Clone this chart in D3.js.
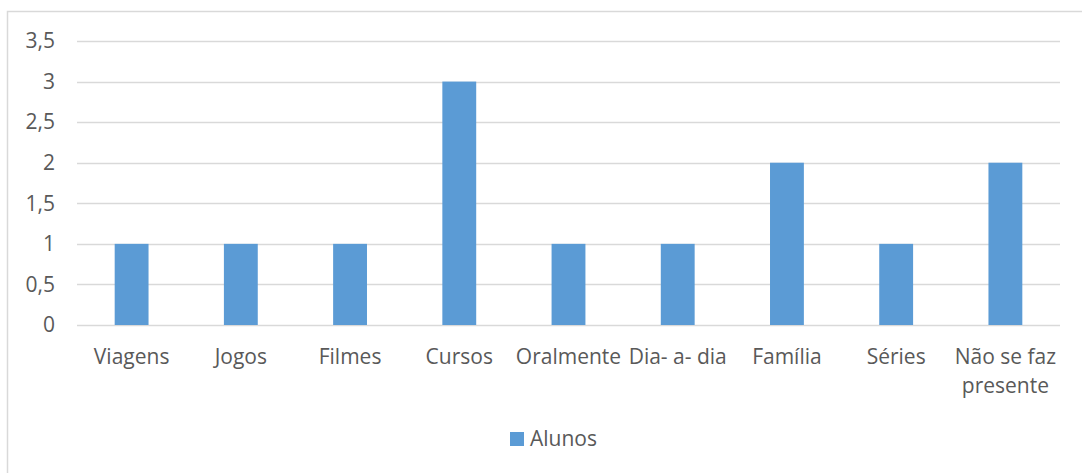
<!DOCTYPE html>
<html>
<head>
<meta charset="utf-8">
<script src="https://cdn.jsdelivr.net/npm/d3@7"></script>
<style>
  html, body { margin: 0; padding: 0; background: #fff; }
  svg { display: block; }
  text { font-family: "Open Sans", sans-serif; fill: #595959; }
</style>
</head>
<body>
<svg id="chart" width="1082" height="473"></svg>
<script>
// Categories and values
const categories = [
  "Viagens", "Jogos", "Filmes", "Cursos", "Oralmente",
  "Dia- a- dia", "Família", "Séries", "Não se faz presente"
];
const alunos = [1, 1, 1, 3, 1, 1, 2, 1, 2];
const yTicks = [0, 0.5, 1, 1.5, 2, 2.5, 3, 3.5];
const seriesName = "Alunos";

const W = 1082, H = 473;
const margin = { left: 77, right: 22, top: 41, bottom: 148 };
const barColor = "#5B9BD5";
const fontSize = 21;
const fontFamily = "'Open Sans', sans-serif";

const svg = d3.select("#chart");

// Outer chart border
svg.append("rect")
  .attr("x", 7.5).attr("y", 11.5)
  .attr("width", W + 10).attr("height", H + 10)
  .attr("fill", "none").attr("stroke", "#d9d9d9").attr("stroke-width", 1.5);

const x = d3.scaleBand()
  .domain(categories)
  .range([margin.left, W - margin.right])
  .paddingInner(0.69).paddingOuter(0.345);

const y = d3.scaleLinear()
  .domain([0, 3.5])
  .range([H - margin.bottom, margin.top]);

// Gridlines
svg.append("g")
  .selectAll("line")
  .data(yTicks)
  .join("line")
  .attr("x1", margin.left).attr("x2", W - margin.right)
  .attr("y1", d => Math.round(y(d)) + 0.5).attr("y2", d => Math.round(y(d)) + 0.5)
  .attr("stroke", "#d9d9d9").attr("stroke-width", 1.5);

// Y axis labels
const fmt = d => String(d).replace(".", ",");
const yAxis = d3.axisLeft(y).tickValues(yTicks).tickFormat(fmt).tickSize(0).tickPadding(0);
const yg = svg.append("g").attr("transform", `translate(55,0)`).call(yAxis);
yg.select(".domain").remove();
yg.selectAll("text")
  .attr("font-size", fontSize).attr("fill", "#595959")
  .style("font-family", fontFamily);

// Bars
svg.append("g")
  .selectAll("rect")
  .data(alunos)
  .join("rect")
  .attr("x", (d, i) => x(categories[i]))
  .attr("width", x.bandwidth())
  .attr("y", d => y(d))
  .attr("height", d => y(0) - y(d))
  .attr("fill", barColor);

// X axis labels, wrapped where the category name is long
const xLabels = {
  "Não se faz presente": ["Não se faz", "presente"]
};
const xg = svg.append("g");
categories.forEach(c => {
  const lines = xLabels[c] || [c];
  const cx = x(c) + x.bandwidth() / 2;
  const t = xg.append("text")
    .attr("x", cx)
    .attr("y", 364)
    .attr("text-anchor", "middle")
    .attr("font-size", fontSize);
  lines.forEach((l, i) => {
    t.append("tspan")
      .attr("x", cx)
      .attr("dy", i === 0 ? 0 : 29)
      .text(l);
  });
});

// Legend
const lg = svg.append("g");
lg.append("rect")
  .attr("x", 510).attr("y", 432).attr("width", 14).attr("height", 14)
  .attr("fill", barColor);
lg.append("text")
  .attr("x", 530).attr("y", 446)
  .attr("font-size", fontSize)
  .text(seriesName);
</script>
</body>
</html>
